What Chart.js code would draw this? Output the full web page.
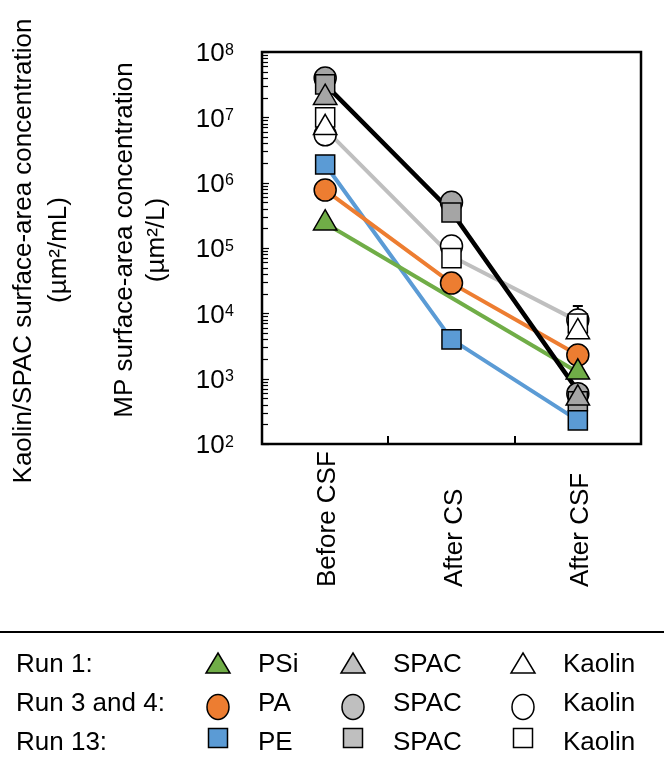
<!DOCTYPE html>
<html>
<head>
<meta charset="utf-8">
<script src="https://cdn.jsdelivr.net/npm/chart.js@4/dist/chart.umd.min.js"></script>
<style>
  body { margin: 0; background: #fff; }
  #wrap { width: 664px; height: 762px; position: relative; }
</style>
</head>
<body>
<div id="wrap"><canvas id="chart"></canvas></div>
<script>
const categories = ["Before CSF", "After CS", "After CSF"];
const yDecades = [2, 3, 4, 5, 6, 7, 8];   // 10^2 .. 10^8

// Run 1 (triangles) - no After CS sample
const psiRun1 = [2.4e5, null, 1.25e3];
const spacRun1 = [2.0e7, null, 5.0e2];
const kaolinRun1 = [6.9e6, null, 5.2e3];
// Run 3 and 4 (circles)
const paRun34 = [7.7e5, 2.9e4, 2.3e3];
const spacRun34 = [4.0e7, 5.0e5, 5.9e2];
const kaolinRun34 = [5.4e6, 1.07e5, 7.9e3];
// Run 13 (squares)
const peRun13 = [1.9e6, 4.0e3, 2.3e2];
const spacRun13 = [3.2e7, 3.5e5, 4.5e2];
const kaolinRun13 = [1.0e7, 7.0e4, 7.0e3];

// connecting lines
const spacLine = [3.2e7, 3.6e5, 6.5e2];
const kaolinLine = [6.6e6, 7.5e4, 7.6e3];

// error bar ends (only the ones that show)
const paRun34Low = [null, 2.2e4, null];
const kaolinRun34High = [null, null, 1.3e4];

const FONT = "'Liberation Sans', Arial, sans-serif";
const GREEN = "#70AD47", ORANGE = "#ED7D31", BLUE = "#5B9BD5";
const GREY = "#A5A5A5", LIGHTGREY = "#BFBFBF";

function markers(label, data, style, fill, r) {
  return {
    label, data, showLine: false,
    pointStyle: style, pointRadius: r, pointHoverRadius: r,
    pointBackgroundColor: fill, pointBorderColor: "#000", pointBorderWidth: 1.5
  };
}
function line(label, data, color, w) {
  return {
    label, data, showLine: true, spanGaps: true,
    borderColor: color, borderWidth: w, pointRadius: 0, pointHoverRadius: 0
  };
}

const decor = {
  id: "decor",
  beforeDatasetsDraw(chart) {
    const { ctx, scales: { x, y } } = chart;
    ctx.save();
    ctx.strokeStyle = "#000";
    ctx.lineWidth = 2;
    const bars = [[paRun34, paRun34Low], [kaolinRun34, kaolinRun34High]];
    bars.forEach(([mid, end]) => {
      end.forEach((v, i) => {
        if (v == null) return;
        const px = x.getPixelForValue(i);
        const y0 = y.getPixelForValue(mid[i]), y1 = y.getPixelForValue(v);
        ctx.beginPath();
        ctx.moveTo(px, y0); ctx.lineTo(px, y1);
        ctx.moveTo(px - 5, y1); ctx.lineTo(px + 5, y1);
        ctx.stroke();
      });
    });
    ctx.restore();
  },
  afterDraw(chart) {
    const { ctx, chartArea: a, scales: { x, y } } = chart;
    ctx.save();
    ctx.strokeStyle = "#000";
    ctx.fillStyle = "#000";

    // plot frame
    ctx.lineWidth = 2.5;
    ctx.strokeRect(a.left, a.top, a.right - a.left, a.bottom - a.top);

    // inside tick marks on the log axis
    ctx.lineWidth = 1.2;
    yDecades.forEach(e => {
      for (let m = 1; m <= 9; m++) {
        if (e === yDecades[yDecades.length - 1] && m > 1) break;
        const py = Math.round(y.getPixelForValue(m * Math.pow(10, e))) + 0.5;
        ctx.beginPath();
        ctx.moveTo(a.left, py);
        ctx.lineTo(a.left + (m === 1 ? 7 : 6), py);
        ctx.stroke();
      }
    });
    // category boundary ticks
    ctx.lineWidth = 2;
    for (let i = 0; i < categories.length - 1; i++) {
      const px = Math.round((x.getPixelForValue(i) + x.getPixelForValue(i + 1)) / 2);
      ctx.beginPath();
      ctx.moveTo(px, a.bottom);
      ctx.lineTo(px, a.bottom - 8);
      ctx.stroke();
    }

    // y tick labels 10^n
    ctx.textAlign = "right";
    ctx.textBaseline = "alphabetic";
    yDecades.forEach(e => {
      const py = y.getPixelForValue(Math.pow(10, e));
      ctx.font = "16px " + FONT;
      const ew = ctx.measureText(String(e)).width;
      ctx.fillText(String(e), 234, py + 2.5);
      ctx.font = "26px " + FONT;
      ctx.fillText("10", 234 - ew - 0.5, py + 9.3);
    });

    // category labels, rotated
    ctx.font = "26px " + FONT;
    ctx.textAlign = "left";
    categories.forEach((c, i) => {
      const px = x.getPixelForValue(i);
      ctx.save();
      ctx.translate(px + 10, 587);
      ctx.rotate(-Math.PI / 2);
      ctx.fillText(c, 0, 0);
      ctx.restore();
    });

    // axis titles, rotated
    const titles = [
      ["Kaolin/SPAC surface-area concentration", 23.5, 251],
      ["(\u00b5m\u00b2/mL)", 58.5, 250],
      ["MP surface-area concentration", 124.5, 240],
      ["(\u00b5m\u00b2/L)", 156.5, 240]
    ];
    ctx.textAlign = "center";
    ctx.textBaseline = "middle";
    titles.forEach(([t, tx, ty]) => {
      ctx.save();
      ctx.translate(tx, ty);
      ctx.rotate(-Math.PI / 2);
      ctx.fillText(t, 0, 0);
      ctx.restore();
    });

    // legend block
    ctx.lineWidth = 2;
    ctx.beginPath();
    ctx.moveTo(0, 632); ctx.lineTo(664, 632);
    ctx.stroke();

    const rows = [
      { name: "Run 1:", shape: "tri", items: [["PSi", GREEN], ["SPAC", LIGHTGREY], ["Kaolin", "#fff"]], base: 672, cy: 665 },
      { name: "Run 3 and 4:", shape: "circ", items: [["PA", ORANGE], ["SPAC", LIGHTGREY], ["Kaolin", "#fff"]], base: 711, cy: 707 },
      { name: "Run 13:", shape: "sq", items: [["PE", BLUE], ["SPAC", LIGHTGREY], ["Kaolin", "#fff"]], base: 750, cy: 738 }
    ];
    const colX = [218, 353, 523], textX = [258, 393, 563];
    ctx.textAlign = "left";
    ctx.textBaseline = "alphabetic";
    ctx.font = "26px " + FONT;
    ctx.lineWidth = 1.5;
    rows.forEach(r => {
      ctx.fillStyle = "#000";
      ctx.fillText(r.name, 16, r.base);
      r.items.forEach(([lab, col], k) => {
        const cx = colX[k], cy = r.cy;
        ctx.beginPath();
        if (r.shape === "tri") {
          ctx.moveTo(cx, cy - 12); ctx.lineTo(cx + 12, cy + 8); ctx.lineTo(cx - 12, cy + 8); ctx.closePath();
        } else if (r.shape === "circ") {
          ctx.ellipse(cx, cy, 11, 12.5, 0, 0, Math.PI * 2);
        } else {
          ctx.rect(cx - 9.5, cy - 9.5, 19, 19);
        }
        ctx.fillStyle = col;
        ctx.fill();
        ctx.stroke();
        ctx.fillStyle = "#000";
        ctx.fillText(lab, textX[k], r.base);
      });
    });
    ctx.restore();
  }
};

new Chart(document.getElementById("chart"), {
  type: "line",
  data: {
    labels: categories,
    datasets: [
      // first listed is drawn on top
      markers("PSi run 1", psiRun1, "triangle", GREEN, 13.5),
      markers("SPAC run 1", spacRun1, "triangle", GREY, 13.5),
      markers("Kaolin run 1", kaolinRun1, "triangle", "#fff", 13.5),
      markers("PE run 13", peRun13, "rect", BLUE, 13.5),
      markers("SPAC run 13", spacRun13, "rect", GREY, 13.5),
      markers("Kaolin run 13", kaolinRun13, "rect", "#fff", 13.5),
      markers("PA run 3 and 4", paRun34, "circle", ORANGE, 11),
      markers("SPAC run 3 and 4", spacRun34, "circle", GREY, 11),
      markers("Kaolin run 3 and 4", kaolinRun34, "circle", "#fff", 11),
      line("SPAC", spacLine, "#000", 4.5),
      line("PSi", psiRun1, GREEN, 4),
      line("PA", paRun34, ORANGE, 4),
      line("PE", peRun13, BLUE, 4),
      line("Kaolin", kaolinLine, LIGHTGREY, 4)
    ]
  },
  options: {
    responsive: true,
    maintainAspectRatio: false,
    animation: false,
    layout: { padding: { left: 262, right: 23, top: 52, bottom: 318 } },
    plugins: { legend: { display: false }, tooltip: { enabled: false } },
    scales: {
      x: { type: "category", offset: true, display: false },
      y: { type: "logarithmic", min: 1e2, max: 1e8, display: false }
    }
  },
  plugins: [decor]
});
</script>
</body>
</html>
